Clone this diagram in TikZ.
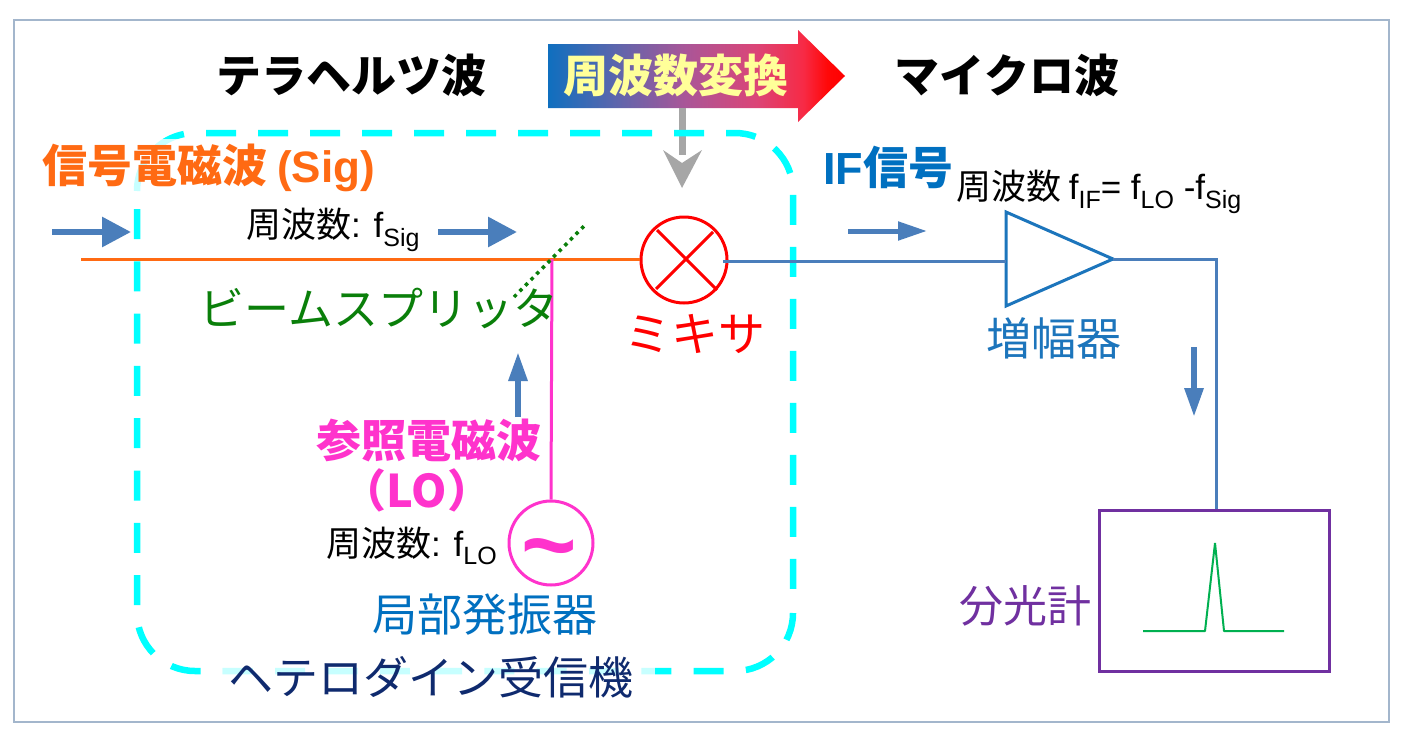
\documentclass[tikz,border=0pt]{standalone}
\usepackage{fontspec}
\setmainfont{Liberation Sans}
\newfontfamily\jp{Noto Sans CJK JP}
\usetikzlibrary{arrows.meta}
\definecolor{frameC}{HTML}{A3B6CC}
\definecolor{flowC}{HTML}{4A7EBB}
\definecolor{orangeC}{HTML}{FF6A13}
\definecolor{pinkC}{HTML}{FF33CC}
\definecolor{blueC}{HTML}{0070C0}
\definecolor{ampC}{HTML}{1C75BC}
\definecolor{navyC}{HTML}{0F2A6E}
\definecolor{purpleC}{HTML}{7030A0}
\definecolor{greenC}{HTML}{0A7F0A}
\definecolor{specC}{HTML}{00B050}
\definecolor{grayC}{HTML}{A6A6A6}
\definecolor{yellowC}{HTML}{FFFF99}
\definecolor{cyanC}{HTML}{00FFFF}
\definecolor{gA}{HTML}{0F6FBF}
\definecolor{gB}{HTML}{5A66AD}
\definecolor{gC}{HTML}{A95698}
\definecolor{gD}{HTML}{DB4577}
\definecolor{gE}{HTML}{F72A45}
\definecolor{gF}{HTML}{FF0808}
\definecolor{gG}{HTML}{FF0000}
\pgfdeclarehorizontalshading{convshade}{100bp}{
  color(0bp)=(gA); color(25bp)=(gA); color(36bp)=(gB); color(48bp)=(gC);
  color(60bp)=(gD); color(68bp)=(gE); color(72bp)=(gF); color(75bp)=(gG); color(100bp)=(gG)}
\newcommand{\sbs}[1]{\raisebox{-0.24em}{\fontsize{25}{25}\selectfont #1}}
\tikzset{
  lbl/.style={inner sep=0pt,outer sep=0pt,font=\fontsize{45}{48}\selectfont\jp},
  lblb/.style={inner sep=0pt,outer sep=0pt,font=\fontsize{45}{48}\selectfont\jp\bfseries},
  small/.style={inner sep=0pt,outer sep=0pt,font=\fontsize{35}{37}\selectfont},
  flow/.style={draw=flowC,line width=6pt,-{Triangle[length=29pt,width=29pt]}},
  flowthin/.style={draw=flowC,line width=5pt,-{Triangle[length=29pt,width=18pt]}},
  flowv/.style={draw=flowC,line width=6pt,-{Triangle[length=29pt,width=18pt]}},
  wire/.style={line width=3pt},
  ring/.style={cyanC,line width=6.5pt},
}
\begin{document}
\begin{tikzpicture}[x=1pt,y=-1pt]
\useasboundingbox (0,0) rectangle (1404,736);
\fill[white] (0,0) rectangle (1404,736);
\draw[frameC,line width=1.8pt] (14,20) rectangle (1389,722);

% gradient arrow
\shade[shading=convshade]
  (548,44) -- (798,44) -- (798,30) -- (845,76) -- (798,122) -- (798,108) -- (548,108) -- cycle;
\node[lblb,text=yellowC] (conv) at (676,75) {周波数変換};
\coordinate (gtop) at (682,108);
\coordinate (gend) at (682,155);
\coordinate (gl) at (663,150);
\coordinate (gn) at (682,163);
\coordinate (gr) at (702,150);
\coordinate (gt) at (682,188);
\draw[grayC,line width=7pt] (gtop) -- (gend);
\fill[grayC] (gl) -- (gn) -- (gr) -- (gt) -- cycle;

% receiver outline
\draw[ring,dash pattern=on 30pt off 22pt,dash phase=41pt,rounded corners=58pt]
  (195,133) -- (793,133) -- (793,593);
\draw[ring,dash pattern=on 30pt off 22.3pt,rounded corners=58pt]
  (137,209) -- (137,671) -- (793,671) -- (793,613);
\draw[ring] plot[domain=49:79,samples=10,smooth] ({195-58*cos(\x)},{191-58*sin(\x)});
\draw[ring] plot[domain=0:29,samples=10,smooth] ({195-58*cos(\x)},{191-58*sin(\x)});
\fill[white,opacity=.78] (223,660) rectangle (655,690);
\fill[white,opacity=.78] (125,139) rectangle (375,194);

% titles
\node[lblb] (thz) at (351,75) {テラヘルツ波};
\node[lblb] (mw) at (1007,75) {マイクロ波};
\node[lblb,text=orangeC,anchor=west] (sig) at (42,168) {信号電磁波 \fontsize{44}{46}\selectfont\rmfamily\bfseries (Sig)};
\node[lblb,text=blueC,anchor=west] (ifs) at (823,167) {\rmfamily IF\jp 信号};
\node[small,anchor=west] (ffreq) at (956,192) {\jp 周波数 \rmfamily f\sbs{IF}= f\sbs{LO} -f\sbs{Sig}};
\node[small,anchor=west] (sfreq) at (246,230) {\jp 周波数\rmfamily: f\sbs{Sig}};
\node[small,anchor=west] (lofreq) at (326,546) {\jp 周波数\rmfamily: f\sbs{LO}};

% components
\node[draw=red,line width=3pt,circle,minimum size=86pt,inner sep=0pt] (mix) at (684,260) {};
\coordinate (xa) at (657,230);
\coordinate (xb) at (717,290);
\coordinate (xc) at (713,232);
\coordinate (xd) at (656,289);
\draw[red,wire] (xa) -- (xb);
\draw[red,wire] (xc) -- (xd);
\node[draw=pinkC,line width=3pt,circle,minimum size=84pt,inner sep=0pt] (lo) at (551,543) {};
\node[inner sep=0pt,text=pinkC,font=\fontsize{95}{95}\selectfont\bfseries] (tilde) at (549,558) {\char"7E};

\coordinate (ampA) at (1006,212);
\coordinate (ampB) at (1006,306);
\coordinate (ampT) at (1113,259);
\draw[ampC,wire,line join=miter] (ampA) -- (ampB) -- (ampT) -- cycle;
\node[draw=purpleC,line width=3pt,minimum width=230pt,minimum height=161pt,inner sep=0pt] (spec) at (1214.5,590.5) {};

% wires
\coordinate (sigin) at (81,259);
\coordinate (bs) at (552,259);
\coordinate (bsA) at (514,297);
\coordinate (bsB) at (587,223);
\coordinate (mixout) at (723,261);
\coordinate (ampin) at (1006,261);
\coordinate (bend) at (1216,259);
\coordinate (mixin) at (640,259);
\draw[orangeC,wire] (sigin) -- (mixin);
\draw[pinkC,wire] (bs) -- (lo.north);
\draw[greenC,line width=3.5pt,dash pattern=on 3.5pt off 4.5pt] (bsA) -- (bsB);
\draw[flowC,wire] (mixout) -- (ampin);
\draw[flowC,wire] (ampT) -- (bend) -- (bend |- spec.north);

% spectrum
\coordinate (s1) at (1143,631);
\coordinate (s2) at (1205,631);
\coordinate (s3) at (1215,543);
\coordinate (s4) at (1224,631);
\coordinate (s5) at (1284,631);
\draw[specC,line width=2pt,line join=bevel] (s1) -- (s2) -- (s3) -- (s4) -- (s5);

% flow arrows
\coordinate (f1a) at (52,232); \coordinate (f1b) at (131,232);
\coordinate (f2a) at (438,232); \coordinate (f2b) at (517,232);
\coordinate (f3a) at (848,231); \coordinate (f3b) at (927,231);
\coordinate (f4a) at (518,417); \coordinate (f4b) at (518,352);
\coordinate (f5a) at (1194,347); \coordinate (f5b) at (1194,417);
\draw[flow] (f1a) -- (f1b);
\draw[flow] (f2a) -- (f2b);
\draw[flowthin] (f3a) -- (f3b);
\draw[flowv] (f4a) -- (f4b);
\draw[flowv] (f5a) -- (f5b);

% labels
\node[lbl,text=greenC] (bsl) at (379,308) {ビームスプリッタ};
\node[lbl,text=red,font=\fontsize{47}{50}\selectfont\jp] (mixl) at (695,334) {ミキサ};
\node[lbl,text=ampC] (ampl) at (1054,338) {増幅器};
\node[lblb,text=pinkC] (lol) at (429,440) {参照電磁波};
\node[lblb,text=pinkC] (lol2) at (417,490) {（LO）};
\node[lbl,text=blueC] (losc) at (485,615) {局部発振器};
\node[lbl,text=navyC] (rx) at (431,677) {ヘテロダイン受信機};
\node[lbl,text=purpleC,font=\fontsize{44}{48}\selectfont\jp] (spl) at (1025,606) {分光計};
\end{tikzpicture}
\end{document}
